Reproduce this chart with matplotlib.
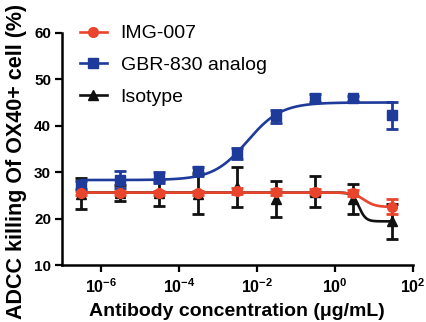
import numpy as np
import matplotlib
matplotlib.use("Agg")
import matplotlib.pyplot as plt

plt.rcParams['font.family'] = ['Liberation Sans', 'DejaVu Sans']
plt.rcParams['mathtext.fontset'] = 'custom'
plt.rcParams['mathtext.rm'] = 'Liberation Sans'
plt.rcParams['mathtext.bf'] = 'Liberation Sans:bold'

conc = [3e-7, 3e-6, 3e-5, 3e-4, 3e-3, 3e-2, 3e-1, 3e0, 3e1]

img_mean = [25.5, 25.5, 25.5, 25.5, 26.0, 25.7, 25.7, 25.5, 22.6]
img_err = [0.5, 0.5, 0.5, 0.5, 0.6, 0.6, 0.6, 0.6, 1.7]

gbr_mean = [27.2, 28.4, 28.8, 30.2, 34.1, 42.0, 46.0, 45.9, 42.2]
gbr_err = [0.8, 1.8, 1.2, 1.0, 1.2, 1.4, 0.8, 0.6, 3.0]

iso_mean = [25.4, 25.5, 25.5, 25.4, 26.8, 24.2, 25.8, 24.2, 19.4]
iso_err = [3.3, 1.8, 2.8, 4.4, 4.3, 3.9, 3.3, 3.2, 3.8]

# fitted curve parameters: start (low conc), end (high conc), logEC50, hill
img_fit = (25.6, 22.5, 0.75, 3.0)
gbr_fit = (28.3, 45.0, -2.25, 1.0)
iso_fit = (25.6, 19.4, 0.62, 5.0)

names = ['IMG-007', 'GBR-830 analog', 'Isotype']
colors = ['#E8452C', '#1E3A9A', '#111111']
markers = ['o', 's', '^']

xticks = [1e-6, 1e-4, 1e-2, 1e0, 1e2]
xtick_labels = [r'$\mathbf{10^{-6}}$', r'$\mathbf{10^{-4}}$', r'$\mathbf{10^{-2}}$',
                r'$\mathbf{10^{0}}$', r'$\mathbf{10^{2}}$']
yticks = [10, 20, 30, 40, 50, 60]


def logistic(logx, start, end, logec, hill):
    return start + (end - start) / (1 + 10 ** ((logec - logx) * hill))


fig = plt.figure(figsize=(4.26, 3.22), dpi=100)
ax = fig.add_axes([0.146, 0.177, 0.823, 0.721])

xs = np.linspace(np.log10(conc[0]), np.log10(conc[-1]), 400)

series = [
    (iso_mean, iso_err, iso_fit, 2, 2),
    (gbr_mean, gbr_err, gbr_fit, 1, 1),
    (img_mean, img_err, img_fit, 0, 0),
]
handles = {}
for mean, err, fit, idx, order in series:
    c = colors[idx]
    z = 2 + (2 - order) * 0.1
    ax.errorbar(conc, mean, yerr=err, fmt='none', ecolor=c, elinewidth=2,
                capsize=4, capthick=2, zorder=z)
    ax.plot(10 ** xs, logistic(xs, *fit), color=c, lw=1.9, zorder=z)
    ax.plot(conc, mean, linestyle='none', marker=markers[idx], color=c,
            markersize=7, zorder=z + 1)
    h, = ax.plot([], [], color=c, lw=1.9, marker=markers[idx], markersize=7)
    handles[idx] = h

ax.set_xscale('log')
ax.set_xlim(1e-7, 1e2)
ax.set_ylim(10, 60)
ax.set_xticks(xticks)
ax.set_xticklabels(xtick_labels)
ax.xaxis.set_minor_locator(matplotlib.ticker.NullLocator())
ax.set_yticks(yticks)
ax.set_yticklabels([str(v) for v in yticks], fontweight='bold')
ax.tick_params(axis='both', which='major', direction='out', length=5, width=1.6,
               labelsize=11, pad=3)
ax.tick_params(axis='x', labelsize=11.5, pad=4)
for s in ['top', 'right']:
    ax.spines[s].set_visible(False)
for s in ['left', 'bottom']:
    ax.spines[s].set_linewidth(1.8)

fig.text(237 / 426, 1 - 311 / 322, 'Antibody concentration (μg/mL)', fontsize=14,
         fontweight='bold', ha='center', va='center')
fig.text(17 / 426, 1 - 161 / 322, 'ADCC killing Of OX40+ cell (%)', fontsize=15.5,
         fontweight='bold', ha='center', va='center', rotation=90)

ax.legend([handles[0], handles[1], handles[2]], names, loc='upper left',
          bbox_to_anchor=(0.0, 1.11), frameon=False, fontsize=14,
          handlelength=1.4, labelspacing=0.72, handletextpad=0.7)

fig.savefig('out.png', dpi=100)
